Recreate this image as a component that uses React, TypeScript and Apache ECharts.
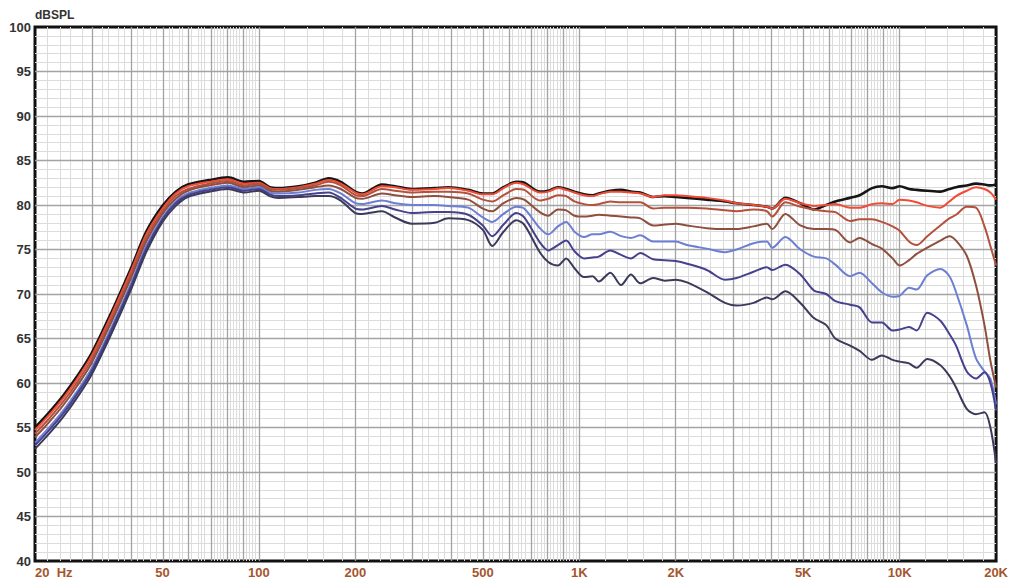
import React, { useEffect, useRef } from "react";
import * as echarts from "echarts";

// Frequency points (Hz) shared by all curves
const FREQS = [
  20, 22, 24.5, 27, 30, 34.6, 40, 44.5, 50, 55, 60, 70, 80, 90, 100, 108, 115, 133, 150, 165, 180,
  200, 210, 242, 266, 300, 354, 390, 450, 500, 535, 580, 636, 673, 753, 800, 858, 910, 966, 1035,
  1100, 1150, 1250, 1350, 1450, 1550, 1700, 1850, 2000, 2170, 2500, 2850, 3100, 3500, 3850, 4000,
  4400, 4900, 5400, 5900, 6300, 7000, 7500, 8200, 8800, 9500, 10000, 10700, 11300, 12200, 13400,
  14300, 15000, 16200, 17300, 18400, 19200, 20000,
];

const BLACK = [
  55.0, 56.6, 58.6, 60.7, 63.3, 67.9, 73.0, 77.0, 79.9, 81.5, 82.3, 82.8, 83.1, 82.6, 82.7, 82.0, 81.9, 82.1, 82.5, 83.0, 82.6,
  81.5, 81.3, 82.3, 82.1, 81.8, 81.9, 82.0, 81.7, 81.3, 81.3, 82.0, 82.6, 82.5, 81.5, 81.6, 82.0, 81.8, 81.5, 81.2,
  81.1, 81.3, 81.6, 81.7, 81.5, 81.4, 80.9, 81.0, 80.9, 80.8, 80.6, 80.4, 80.2, 80.0, 79.8, 79.6,
  80.8, 80.2, 79.5, 80.0, 80.4, 80.8, 81.1, 81.9, 82.1, 81.9, 82.1, 81.8, 81.7, 81.6, 81.5,
  81.8, 82.0, 82.2, 82.4, 82.3, 82.2, 82.3,
];
const RED = [
  54.7, 56.3, 58.3, 60.4, 63.0, 67.6, 72.7, 76.7, 79.6, 81.3, 82.1, 82.6, 82.9, 82.4, 82.5, 81.9, 81.8, 82.0, 82.4, 82.8, 82.4,
  81.4, 81.2, 82.1, 82.0, 81.7, 81.8, 81.9, 81.6, 81.2, 81.2, 81.9, 82.5, 82.3, 81.4, 81.5, 81.9, 81.7, 81.4, 81.1,
  81.0, 81.2, 81.5, 81.5, 81.4, 81.3, 80.9, 81.1, 81.1, 81.0, 80.8, 80.5, 80.2, 80.0, 79.8, 79.6,
  80.7, 80.2, 79.9, 80.0, 80.1, 79.7, 79.7, 80.1, 80.2, 80.1, 80.6, 80.5, 80.3, 79.9, 79.7,
  80.4, 81.0, 81.6, 82.0, 81.8, 81.4, 80.6,
];
const BROWN_RED = [
  54.3, 55.9, 57.9, 60.0, 62.6, 67.2, 72.3, 76.3, 79.3, 81.0, 81.8, 82.4, 82.7, 82.2, 82.4, 81.8, 81.7, 81.9, 82.2, 82.6, 82.2,
  81.1, 81.0, 81.8, 81.6, 81.4, 81.5, 81.5, 81.3, 80.6, 80.4, 81.1, 81.8, 81.7, 80.5, 80.7, 81.1, 81.0, 80.4, 80.1,
  80.0, 80.1, 80.4, 80.3, 80.3, 80.3, 79.6, 79.7, 79.7, 79.7, 79.6, 79.4, 79.3, 79.5, 79.3, 78.7,
  80.3, 79.8, 79.5, 79.3, 79.2, 78.2, 78.4, 78.4, 78.1, 77.6, 77.1, 75.9, 75.5, 76.5, 77.7,
  78.5, 78.9, 79.8, 79.7, 77.6, 75.4, 73.2,
];
const BROWN = [
  53.9, 55.5, 57.5, 59.6, 62.2, 66.8, 71.9, 75.9, 79.0, 80.7, 81.6, 82.2, 82.5, 82.0, 82.2, 81.6, 81.5, 81.7, 82.0, 82.2, 81.8,
  80.8, 80.7, 81.3, 81.1, 80.9, 81.0, 80.9, 80.6, 79.6, 79.3, 80.2, 80.8, 80.6, 79.2, 78.8, 79.5, 79.4, 78.8, 78.7,
  78.8, 78.9, 78.8, 78.7, 78.6, 78.5, 77.7, 77.8, 77.9, 77.7, 77.4, 77.3, 77.3, 77.6, 77.9, 77.3,
  79.0, 77.7, 77.3, 77.3, 77.2, 75.8, 76.3, 75.6, 75.1, 74.0, 73.2, 73.8, 74.5, 75.2, 76.0,
  76.5, 76.0, 74.3, 71.0, 66.5, 62.5, 59.5,
];
const LIGHT_BLUE = [
  53.3, 54.9, 56.9, 59.0, 61.6, 66.2, 71.3, 75.4, 78.6, 80.4, 81.3, 81.9, 82.2, 81.8, 82.0, 81.4, 81.3, 81.4, 81.7, 81.8, 81.3,
  80.2, 80.1, 80.5, 80.2, 80.0, 80.0, 79.9, 79.7, 78.6, 78.1, 79.0, 79.8, 79.6, 77.4, 76.7, 77.6, 78.1, 77.0, 76.4,
  76.7, 76.7, 77.0, 76.5, 76.3, 76.6, 75.9, 75.9, 75.9, 75.5, 75.1, 74.7, 75.0, 75.7, 75.9, 75.2,
  76.4, 75.0, 74.2, 74.0, 73.3, 72.0, 72.4, 71.2, 70.2, 69.7, 69.8, 70.7, 70.5, 72.1, 72.8,
  72.0, 70.2, 66.5, 62.8, 61.3, 60.5, 57.6,
];
const SLATE = [
  53.0, 54.6, 56.6, 58.7, 61.3, 65.9, 71.0, 75.1, 78.4, 80.2, 81.1, 81.7, 82.0, 81.6, 81.8, 81.2, 81.0, 81.1, 81.3, 81.4, 80.8,
  79.6, 79.5, 79.9, 79.5, 79.1, 79.2, 79.2, 78.9, 77.7, 76.5, 77.8, 79.1, 78.6, 75.8, 74.9, 75.5, 76.0, 74.8, 74.0,
  74.1, 74.2, 74.9, 74.4, 74.0, 74.6, 73.9, 73.8, 73.7, 73.4, 72.7, 71.6, 71.8, 72.5, 73.0, 72.7,
  73.3, 72.2, 70.4, 70.0, 69.2, 68.8, 68.5, 66.8, 66.8, 65.9, 66.0, 66.3, 65.9, 67.9, 67.0,
  65.5, 64.2, 61.3, 60.5, 61.2, 60.0, 56.9,
];
const NAVY = [
  52.6, 54.2, 56.2, 58.3, 60.9, 65.5, 70.6, 74.7, 78.1, 79.9, 80.9, 81.5, 81.8, 81.4, 81.6, 81.0, 80.8, 80.9, 81.0, 81.0, 80.5,
  79.1, 79.0, 79.3, 78.6, 77.9, 78.0, 78.5, 78.3, 77.2, 75.4, 77.0, 78.3, 77.8, 74.7, 73.6, 73.2, 74.0, 72.9, 71.9,
  72.0, 71.4, 72.4, 71.0, 72.2, 71.2, 71.8, 71.5, 71.6, 71.3, 70.2, 69.0, 68.7, 69.0, 69.6, 69.4,
  70.3, 69.0, 67.3, 66.5, 65.0, 64.2, 63.6, 62.6, 63.1, 62.6, 62.4, 62.2, 61.7, 62.7, 62.0,
  60.8, 59.5, 57.1, 56.5, 56.7, 55.0, 51.0,
];

const X_LABEL_FREQS = [20, 50, 100, 200, 500, 1000, 2000, 5000, 10000, 20000];
const X_LABELS = ["20  Hz", "50", "100", "200", "500", "1K", "2K", "5K", "10K", "20K"];

const SERIES_DEFS = [
  { name: "s1", values: BLACK, color: "#151515", width: 2.6 },
  { name: "s2", values: RED, color: "#f24b35", width: 2 },
  { name: "s3", values: BROWN_RED, color: "#b4513d", width: 2 },
  { name: "s4", values: BROWN, color: "#8f4f3e", width: 2 },
  { name: "s5", values: LIGHT_BLUE, color: "#6c7fd2", width: 2 },
  { name: "s6", values: SLATE, color: "#46418f", width: 2 },
  { name: "s7", values: NAVY, color: "#3b3a5a", width: 2 },
];

const FMIN = 20;
const FMAX = 20000;

function gridFreqs() {
  const major: number[] = [];
  const minor: number[] = [];
  for (const dec of [10, 100, 1000, 10000]) {
    for (let j = 10; j < 100; j += 2) {
      const f = (dec * j) / 10;
      if (f <= FMIN || f >= FMAX) continue;
      if (j % 10 === 0) major.push(f);
      else minor.push(f);
    }
  }
  return { major, minor };
}

export default function App() {
  const ref = useRef<HTMLDivElement>(null);
  useEffect(() => {
    if (!ref.current) return;
    const chart = echarts.init(ref.current, undefined, { renderer: "svg" });
    const { major, minor } = gridFreqs();
    const minorY: number[] = [];
    const majorY: number[] = [];
    for (let v = 41; v < 100; v++) {
      if (v % 5 === 0) majorY.push(v);
      else minorY.push(v);
    }
    const labelVals = X_LABEL_FREQS.map((f) => Math.log10(f));
    const fmtX = (v: number) => {
      let best = 0;
      let bd = Infinity;
      labelVals.forEach((lv, i) => {
        const d = Math.abs(lv - v);
        if (d < bd) {
          bd = d;
          best = i;
        }
      });
      return X_LABELS[best];
    };
    const gridSeries = (name: string, xs: number[], ys: number[], color: string, width: number) => ({
      type: "line",
      name,
      data: [],
      silent: true,
      markLine: {
        silent: true,
        symbol: ["none", "none"],
        label: { show: false },
        emphasis: { disabled: true },
        lineStyle: { color, width, type: "solid" },
        data: [
          ...xs.map((f) => ({ xAxis: Math.log10(f) })),
          ...ys.map((v) => ({ yAxis: v })),
        ],
      },
    });
    chart.setOption({
      animation: false,
      backgroundColor: "#ffffff",
      grid: {
        left: 35,
        right: 12,
        top: 27,
        bottom: 20,
        show: true,
        borderColor: "#111111",
        borderWidth: 3,
        backgroundColor: "transparent",
      },
      xAxis: {
        type: "value",
        min: Math.log10(FMIN),
        max: Math.log10(FMAX),
        axisLine: { show: false },
        axisTick: { show: false },
        splitLine: { show: false },
        axisLabel: {
          customValues: labelVals,
          formatter: fmtX,
          color: "#a4552e",
          fontWeight: "bold",
          fontSize: 13,
          fontFamily: "Liberation Sans, Arial, sans-serif",
          margin: 5,
          alignMinLabel: "left",
          showMinLabel: true,
          showMaxLabel: true,
        },
      },
      yAxis: {
        type: "value",
        min: 40,
        max: 100,
        interval: 5,
        name: "dBSPL",
        nameLocation: "end",
        nameGap: 4,
        nameTextStyle: {
          align: "left",
          verticalAlign: "bottom",
          color: "#333333",
          fontWeight: "bold",
          fontSize: 12,
          fontFamily: "Liberation Sans, Arial, sans-serif",
        },
        axisLine: { show: false },
        axisTick: { show: false },
        splitLine: { show: false },
        axisLabel: {
          color: "#333333",
          fontWeight: "bold",
          fontSize: 13,
          fontFamily: "Liberation Sans, Arial, sans-serif",
          margin: 4,
        },
      },
      series: [
        gridSeries("minorGrid", minor, minorY, "#dcdcdc", 1),
        gridSeries("majorGrid", major, majorY, "#a3a3a3", 1.3),
        ...SERIES_DEFS.map((s) => ({
          type: "line",
          name: s.name,
          data: FREQS.map((f, i) => [Math.log10(f), s.values[i]]),
          smooth: 0.3,
          symbol: "none",
          silent: true,
          lineStyle: { color: s.color, width: s.width },
          z: 5,
        })),
      ],
    });
    return () => chart.dispose();
  }, []);
  return (
    <div
      ref={ref}
      style={{ position: "fixed", left: 0, top: 0, width: 1011, height: 581 }}
    />
  );
}
